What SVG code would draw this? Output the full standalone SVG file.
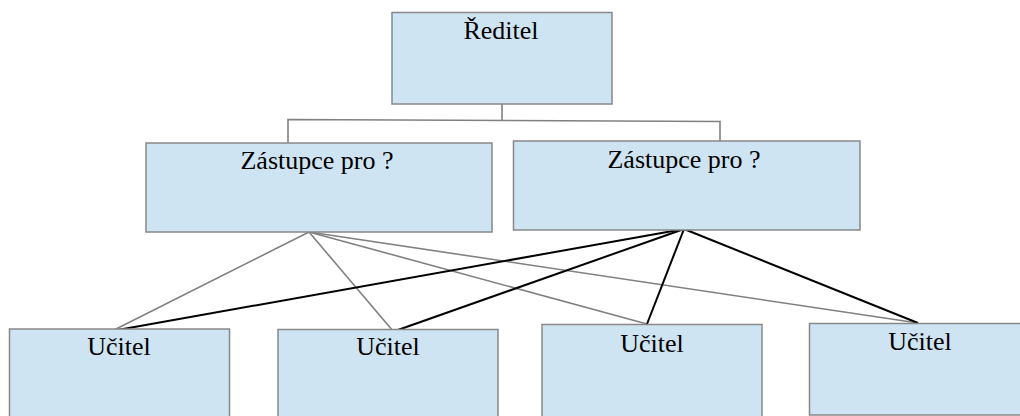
<svg xmlns="http://www.w3.org/2000/svg" width="1020" height="416" viewBox="0 0 1020 416">
<style>
.box{fill:#cfe4f3;stroke:#888888;stroke-width:1.5}
.lbl{font-family:"Liberation Serif","Times New Roman",serif;font-size:26px;fill:#000;text-anchor:middle}
.g{stroke:#808080;stroke-width:1.6;fill:none}
.k{stroke:#000;stroke-width:2;fill:none}
</style>
<rect width="1020" height="416" fill="#fff"/>
<g id="connectors">
<polyline class="g" points="502,104 502,120"/>
<polyline class="g" points="288,142.5 288,119.5 720,121.5 720,141"/>
<line class="g" x1="309" y1="232" x2="112" y2="331"/>
<line class="g" x1="309" y1="232" x2="393" y2="331"/>
<line class="g" x1="309" y1="232" x2="647" y2="324"/>
<line class="g" x1="309" y1="232" x2="918" y2="323"/>
<line class="k" x1="684" y1="229" x2="112" y2="331"/>
<line class="k" x1="684" y1="229" x2="395" y2="331"/>
<line class="k" x1="684" y1="229" x2="647" y2="324"/>
<line class="k" x1="684" y1="229" x2="918" y2="323"/>
</g>
<g id="reditel">
<rect class="box" x="392" y="12.5" width="220" height="91.5"/>
<text class="lbl" x="501" y="39">Ředitel</text>
</g>
<g id="zastupce1">
<rect class="box" x="146" y="143" width="346" height="89"/>
<text class="lbl" x="317" y="169">Zástupce pro ?</text>
</g>
<g id="zastupce2">
<rect class="box" x="513.5" y="141" width="346.5" height="89"/>
<text class="lbl" x="684" y="167.5">Zástupce pro ?</text>
</g>
<g id="ucitel1">
<rect class="box" x="9.5" y="329" width="220" height="100"/>
<text class="lbl" x="119" y="355">Učitel</text>
</g>
<g id="ucitel2">
<rect class="box" x="278" y="329.5" width="220" height="100"/>
<text class="lbl" x="388" y="355">Učitel</text>
</g>
<g id="ucitel3">
<rect class="box" x="542" y="324.5" width="220" height="100"/>
<text class="lbl" x="652" y="352">Učitel</text>
</g>
<g id="ucitel4">
<rect class="box" x="809.5" y="323.5" width="220" height="91.5"/>
<text class="lbl" x="920" y="350">Učitel</text>
</g>
</svg>
